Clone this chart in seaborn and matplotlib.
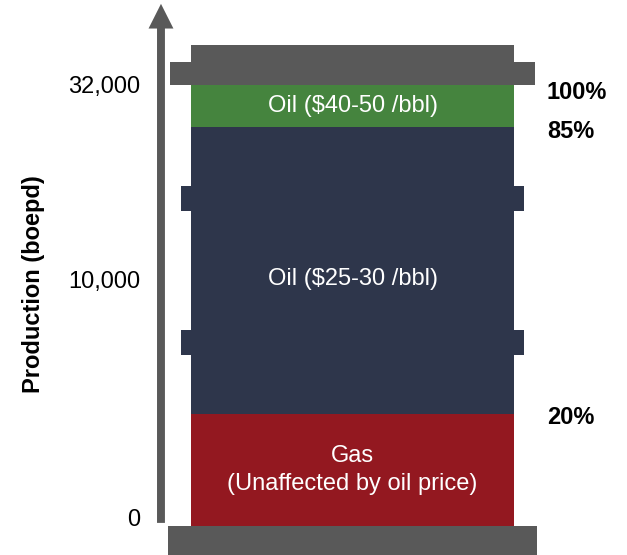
import matplotlib
matplotlib.use("Agg")
import matplotlib.pyplot as plt
from matplotlib.patches import Rectangle, FancyArrow
import seaborn as sns

# Barrel segments, bottom to top
segments = ["Gas\n(Unaffected by oil price)", "Oil ($25-30 /bbl)", "Oil ($40-50 /bbl)"]
# heights as drawn in the graphic (share of the barrel body)
heights = [25.4, 65.0, 9.6]
share_labels = ["20%", "85%", "100%"]
colors = ["#931820", "#2E364B", "#45843E"]

# y axis ticks (axis is not linear in the original)
tick_pos = [2.0, 55.8, 100.0]
tick_labels = ["0", "10,000", "32,000"]

grey = "#595959"

sns.set_theme(style="white")
plt.rcParams["font.family"] = ["Liberation Sans", "DejaVu Sans"]

fig = plt.figure(figsize=(6.27, 5.55), dpi=100)
ax = fig.add_axes([0.2313, 0.0, 0.7687, 1.0])

# stacked segments
bottoms = []
b = 0
for h in heights:
    bottoms.append(b)
    b += h

for i, (seg, h, bot, c) in enumerate(zip(segments, heights, bottoms, colors)):
    sns.barplot(x=["barrel"], y=[h], bottom=bot, color=c, width=1.0,
                saturation=1, linewidth=0, ax=ax)
    ymid = bot + h / 2 - (1.8 if i == 1 else 0)
    ax.text(0, ymid, seg, ha="center", va="center",
            color="white", fontsize=17, linespacing=1.3)

# share labels on the right
for lab, h, bot in zip(share_labels, heights, bottoms):
    y = min(bot + h - 0.9, 98.3)
    ax.text(0.602, y, lab, ha="left", va="center", fontsize=17,
            fontweight="bold", color="black")

# barrel decorations: lid, base and hoops
ax.add_patch(Rectangle((-0.5, 105.2), 1.0, 3.9, color=grey, lw=0, clip_on=False))
ax.add_patch(Rectangle((-0.565, 100.0), 1.13, 5.2, color=grey, lw=0, clip_on=False))
ax.add_patch(Rectangle((-0.572, -7.0), 1.144, 7.0, color=grey, lw=0, clip_on=False))
for y0 in [38.8, 71.4]:
    ax.add_patch(Rectangle((-0.531, y0), 1.062, 5.65, color=colors[1], lw=0, zorder=0.5))

# arrow as the y axis
ax.add_patch(FancyArrow(-0.593, 0.7, 0, 117.7, width=0.0245, head_width=0.077,
                        head_length=5.6, length_includes_head=True,
                        color=grey, lw=0, clip_on=False))

ax.set_xlim(-0.6424, 0.8498)
ax.set_ylim(-6.58, 119.27)
ax.set_yticks(tick_pos)
ax.set_yticklabels(tick_labels)
ax.tick_params(axis="y", length=0, pad=3.6, labelsize=17, labelcolor="black")
ax.set_xticks([])
ax.set_xlabel("")
ax.set_ylabel("Production (boepd)", fontsize=17, fontweight="bold",
              va="center", color="black")
ax.yaxis.set_label_coords(-0.2324, 0.488)
sns.despine(ax=ax, left=True, bottom=True)

fig.savefig("out.png", dpi=100)
